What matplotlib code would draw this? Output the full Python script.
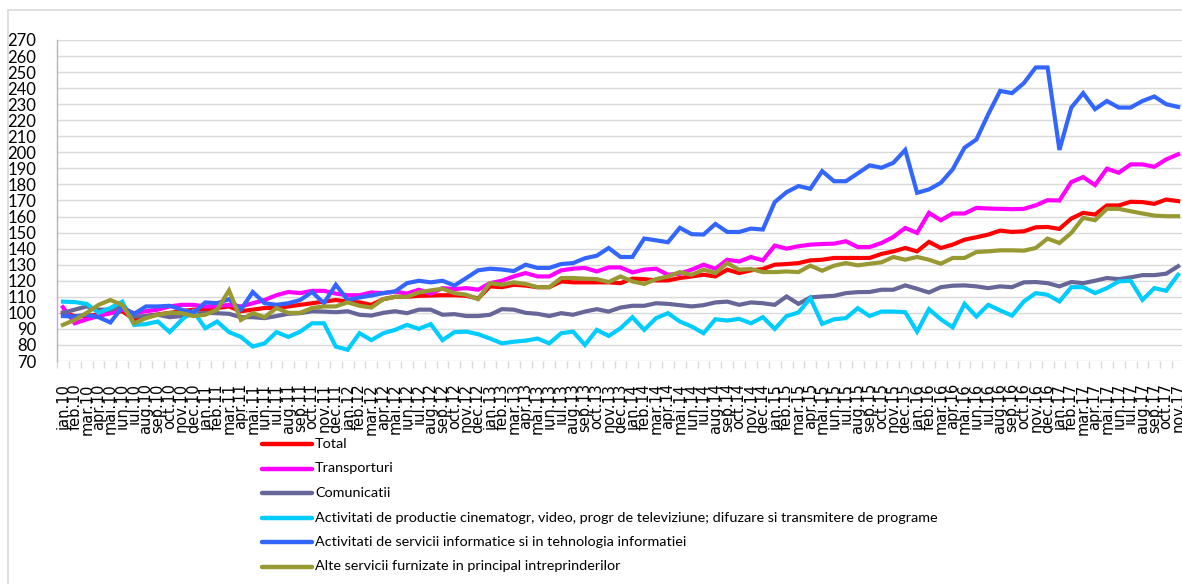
import matplotlib
matplotlib.use("Agg")
import matplotlib.pyplot as plt
from matplotlib.lines import Line2D
from matplotlib.patches import Rectangle
import numpy as np

months = ['ian', 'feb', 'mar', 'apr', 'mai', 'iun', 'iul', 'aug', 'sep', 'oct', 'nov', 'dec']
years = ['10', '11', '12', '13', '14', '15', '16', '17']
labels = [f"{m}.{y}" for y in years for m in months][:95]

total = [100, 98, 98, 99, 100, 101, 96, 98, 99, 100, 101, 102, 102, 103, 104, 101, 102, 103, 103, 104,
         105, 106, 107, 108, 107, 106.5, 105, 108.5, 110, 110, 110.6, 110.8, 111, 111, 110.6, 109, 116.5, 116, 117.5, 117, 116, 116, 119.6, 119, 119,
         119, 119, 118.5, 121.3, 121, 120.2, 120.2, 121.7, 122.7, 123.75, 122.7, 126.9, 124.8, 126.5, 127.3, 130, 130.4, 131, 132.7, 133.1, 134.2, 134.2, 134.2, 134.2,
         136.7, 138.3, 140.4, 138.3, 144.2, 140.4, 142.5, 145.6, 147.1, 148.75, 151.25, 150.4, 150.8, 153.3, 153.5, 152.3, 158.75, 162.3, 161.25, 166.9, 166.9, 169.2, 169, 167.9, 170.6, 169.6]

transporturi = [103.5, 93.5, 96, 98, 99.8, 102, 99.8, 101, 102, 104, 105, 105, 104, 104, 105, 104, 106, 108, 111, 113,
                112.3, 113.7, 113.7, 112, 111, 111, 112.7, 112.3, 113.3, 112, 114.4, 112, 115.4, 114.8, 115.4, 114.4, 118.5, 120, 122.7, 124.8, 122.7, 122.7, 126.5, 127.5, 128,
                125.8, 128.3, 128.3, 125.2, 126.9, 127.5, 123.75, 124.4, 126.9, 130, 127.5, 133.1, 132, 134.8, 132.7, 141.9, 140, 141.5, 142.5, 142.9, 143.1, 144.6, 141, 141,
                143.5, 147.3, 152.9, 149.8, 162.3, 157.7, 161.9, 161.9, 165.4, 165, 164.8, 164.6, 164.8, 167, 170.2, 170, 181.5, 184.6, 179.6, 189.8, 187.3, 192.5, 192.5, 191, 195.6, 198.75]

comunicatii = [100, 102, 104, 102, 102, 104, 97.7, 98, 98.8, 97.3, 98, 98.8, 100, 99.8, 99.4, 97.3, 97.3, 96.7, 98, 99.4,
               99.8, 101, 100.8, 100.4, 101, 98.8, 98.3, 100, 101, 99.8, 102, 102, 98.8, 99.2, 98, 98, 98.8, 102.3, 102, 100, 99.4, 98, 99.8, 98.8, 100.8,
               102.3, 100.8, 103.3, 104.4, 104.4, 106, 105.6, 104.8, 104, 104.8, 106.5, 107, 105, 106.5, 106, 105, 110.2, 105.6, 109.6, 110.2, 110.6, 112.3, 112.9, 113,
               114.4, 114.4, 117.1, 115, 112.7, 116, 116.9, 117.1, 116.5, 115.4, 116.5, 116, 119, 119.2, 118.5, 116.5, 119.2, 118.5, 120, 121.7, 121, 122.1, 123.5, 123.5, 124.4, 129]

cinema_tv = [107, 106.7, 105.6, 100, 103, 107, 92.5, 93, 94.6, 88, 95.6, 101, 90.4, 94.6, 88, 85, 79, 81, 88, 85,
             88.3, 93.5, 93.5, 79, 77, 87.3, 83, 87.3, 89.4, 92.5, 90, 93, 83, 88, 88.3, 86.7, 84, 81, 82, 82.7, 84, 81, 87.3, 88.3, 80,
             89.4, 85.6, 90.4, 97.3, 89.4, 96.7, 99.8, 94.6, 91.5, 87.3, 96, 95.2, 96.25, 93.5, 97.3, 90, 98, 100.2, 109.2, 93.1, 96, 96.7, 102.9, 98,
             100.8, 100.8, 100.4, 88.3, 102.3, 96, 91, 105.6, 97.7, 105, 101.5, 98.3, 107.1, 112.3, 111.25, 107.1, 116, 116, 112.3, 115.4, 119.6, 120, 108.1, 115.4, 113.75, 123.75]

informatice = [98, 97.7, 98.8, 97.3, 94, 103.5, 99.4, 104, 104, 104.4, 102, 100, 106.5, 106, 108.5, 102, 113, 106, 105, 106,
               108, 113, 106, 117.5, 108, 109.6, 110.8, 112.3, 113.3, 118.5, 120, 119, 120, 117, 121.7, 126.5, 127.5, 127, 126, 130, 128, 128, 130.4, 131, 134,
               135.6, 140.4, 134.8, 134.8, 146.3, 145.2, 144, 153, 149, 148.8, 155.4, 150.4, 150.4, 152.5, 151.9, 169, 175.2, 179, 177.3, 188.3, 182, 182, 186.9, 191.9,
               190.4, 193.5, 201.5, 174.8, 176.9, 181, 189.4, 202.9, 208, 223.75, 238.3, 236.9, 243.1, 252.9, 252.9, 201.5, 227.9, 236.9, 226.9, 232, 227.9, 227.9, 232, 234.8, 230, 228.3]

alte_servicii = [92.5, 95.6, 100, 105, 108, 105, 93.5, 96.7, 98.8, 100, 99.8, 98, 98.8, 102, 114, 95.6, 99.8, 97.3, 103, 100,
                 100, 103, 104, 104, 106.5, 104.4, 103.3, 108.5, 110, 110, 112.7, 114, 115, 112.3, 111.3, 108.5, 118.5, 117.5, 119, 118, 116, 116, 121.7, 121.7, 121.3,
                 121, 119.2, 122.7, 119.6, 118, 121, 122.7, 125.4, 123.75, 126.9, 124.8, 131, 126.9, 127.3, 125.4, 125.4, 125.8, 125.4, 129.4, 126.25, 129.4, 131, 129.6, 130.6,
                 131.5, 134.8, 133.1, 134.8, 133.1, 130.6, 134.2, 134.2, 137.9, 138.3, 138.95, 138.95, 138.75, 140.4, 146.25, 143.5, 149.8, 159.2, 157.7, 164.8, 164.8, 163.3, 161.9, 160.6, 160.2, 160.2]

series_names = ['Total', 'Transporturi', 'Comunicatii',
                'Activitati de productie cinematogr, video, progr de televiziune; difuzare si transmitere de programe',
                'Activitati de servicii informatice si in tehnologia informatiei',
                'Alte servicii furnizate in principal intreprinderilor']
series_vals = [total, transporturi, comunicatii, cinema_tv, informatice, alte_servicii]
colors = ['#ff0000', '#ff00ff', '#666699', '#00ccff', '#3366ff', '#999933']

W, H = 1182, 584
fig = plt.figure(figsize=(W / 100, H / 100), dpi=100)

# chart border
fig.patches.append(Rectangle((8 / W, -0.1), 1.2, (H - 10) / H + 0.1, transform=fig.transFigure,
                             fill=False, edgecolor='#d9d9d9', linewidth=1.2, zorder=0))

ax_left, ax_right = 57, 1184
ax_top, ax_bottom = 40, 361
ax = fig.add_axes([ax_left / W, (H - ax_bottom) / H, (ax_right - ax_left) / W, (ax_bottom - ax_top) / H])
ax.set_facecolor('none')

x = np.arange(len(labels))
for name, vals, c in zip(series_names, series_vals, colors):
    ax.plot(x, vals, color=c, linewidth=3.0, solid_joinstyle='miter', label=name, zorder=3)

ax.set_xlim(-0.5, len(labels) - 0.5)
ax.set_ylim(70, 270)
ax.set_yticks(np.arange(70, 271, 10))
ax.yaxis.grid(True, color='#d9d9d9', linewidth=1.0)
ax.set_axisbelow(True)

for s in ['top', 'right', 'bottom']:
    ax.spines[s].set_visible(False)
ax.spines['left'].set_color('#c9a6c9')
ax.spines['left'].set_linewidth(1.0)

ax.tick_params(axis='y', length=0, pad=15, labelsize=12, labelcolor='black')
for t in ax.get_yticklabels():
    t.set_fontfamily(['Lato', 'DejaVu Sans'])

ax.set_xticks(x)
ax.set_xticklabels(labels, rotation=90, fontsize=10.5, family='DejaVu Sans')
ax.tick_params(axis='x', which='major', length=0, pad=16)
ax.set_xticks(np.arange(-0.5, len(labels), 1), minor=True)
ax.tick_params(axis='x', which='minor', length=5, color='#d9d9d9', width=1)

# legend (manual, below the chart)
row_y = [444, 468.5, 493, 517.5, 542, 566.5]
for name, c, yy in zip(series_names, colors, row_y):
    fy = (H - yy) / H
    fig.lines.append(Line2D([262 / W, 312 / W], [fy, fy], transform=fig.transFigure,
                            color=c, linewidth=3.2, solid_capstyle='round'))
    fig.text(315 / W, fy, name, fontsize=10.4, family=['Lato', 'DejaVu Sans'],
             va='center', ha='left', color='black')

fig.savefig('out.png', dpi=100)
